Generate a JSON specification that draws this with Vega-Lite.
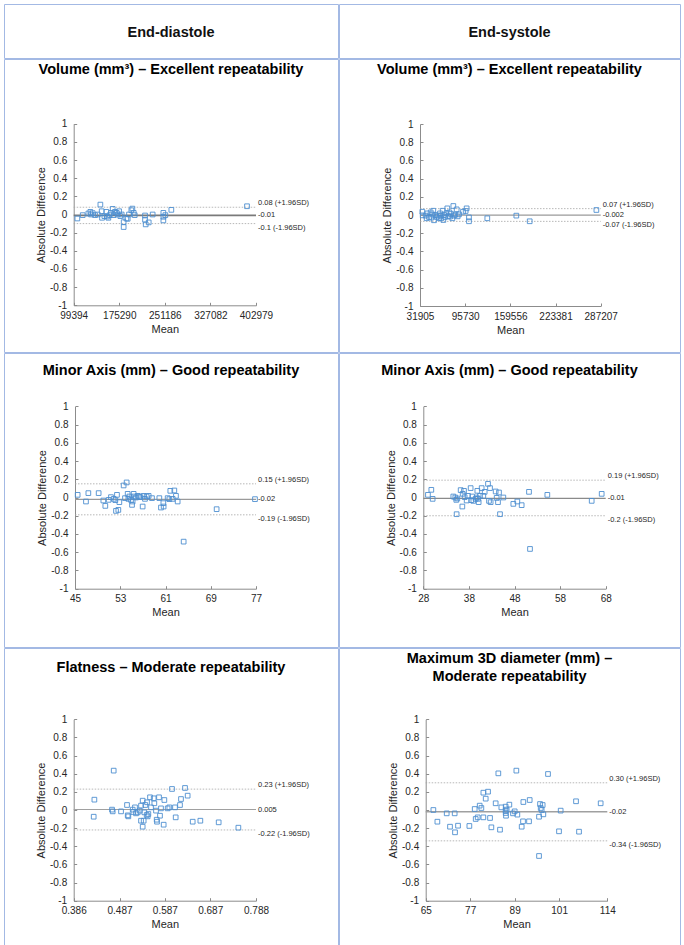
{
"$schema": "https://vega.github.io/schema/vega-lite/v6.json",
"padding": {"left": 3, "top": 3, "right": 0, "bottom": 0},
"background": "white",
"datasets": {
"p1": [{"x":105500,"y":-0.044},{"x":114400,"y":-0.007},{"x":123800,"y":0.011},{"x":127100,"y":0.029},{"x":128300,"y":0},{"x":131000,"y":0.015},{"x":134900,"y":-0.007},{"x":139400,"y":0},{"x":143800,"y":0.109},{"x":146000,"y":0.036},{"x":146600,"y":-0.036},{"x":150500,"y":-0.018},{"x":153800,"y":0.029},{"x":154900,"y":-0.022},{"x":157100,"y":-0.036},{"x":159300,"y":-0.007},{"x":161600,"y":0.018},{"x":164300,"y":0.062},{"x":166000,"y":-0.007},{"x":168200,"y":0.029},{"x":171000,"y":0.018},{"x":172700,"y":0},{"x":175000,"y":0.036},{"x":177100,"y":-0.018},{"x":179300,"y":0},{"x":182600,"y":-0.084},{"x":182600,"y":-0.138},{"x":187100,"y":-0.044},{"x":189300,"y":-0.047},{"x":191500,"y":0},{"x":195400,"y":0.047},{"x":197100,"y":0.065},{"x":199300,"y":0.018},{"x":201000,"y":-0.007},{"x":218200,"y":-0.011},{"x":218200,"y":-0.058},{"x":219300,"y":-0.109},{"x":224300,"y":-0.087},{"x":230900,"y":0},{"x":248700,"y":0.018},{"x":248700,"y":-0.025},{"x":248700,"y":-0.065},{"x":252000,"y":-0.007},{"x":262000,"y":0.051},{"x":388000,"y":0.091}],
"p2": [{"x":35200,"y":0.036},{"x":35700,"y":-0.004},{"x":39900,"y":-0.007},{"x":41300,"y":-0.036},{"x":42300,"y":0.018},{"x":44600,"y":-0.022},{"x":47000,"y":0.029},{"x":47900,"y":-0.029},{"x":49300,"y":0.007},{"x":50700,"y":0.047},{"x":51700,"y":-0.058},{"x":53600,"y":0},{"x":55500,"y":-0.022},{"x":57300,"y":-0.007},{"x":58800,"y":-0.036},{"x":60200,"y":0.018},{"x":61100,"y":-0.007},{"x":62000,"y":-0.036},{"x":63900,"y":0.047},{"x":64900,"y":-0.055},{"x":65800,"y":0},{"x":67200,"y":-0.022},{"x":69100,"y":0.018},{"x":70500,"y":0.073},{"x":71900,"y":-0.011},{"x":73400,"y":0.029},{"x":74300,"y":-0.018},{"x":75700,"y":0.011},{"x":77600,"y":-0.036},{"x":79000,"y":0.099},{"x":79900,"y":-0.007},{"x":81800,"y":0.004},{"x":83700,"y":0.062},{"x":85100,"y":-0.015},{"x":87000,"y":0.007},{"x":92700,"y":0.036},{"x":96400,"y":0.044},{"x":97800,"y":0.073},{"x":101100,"y":-0.026},{"x":101100,"y":-0.069},{"x":127000,"y":-0.036},{"x":168000,"y":-0.007},{"x":186900,"y":-0.069},{"x":281100,"y":0.055}],
"p3": [{"x":45.47,"y":0.029},{"x":46.94,"y":-0.044},{"x":47.36,"y":0.048},{"x":49.18,"y":0.048},{"x":50.01,"y":-0.033},{"x":50.36,"y":-0.092},{"x":50.95,"y":-0.026},{"x":51.36,"y":0.004},{"x":51.84,"y":-0.015},{"x":52.13,"y":-0.029},{"x":52.25,"y":-0.147},{"x":52.42,"y":0.029},{"x":52.66,"y":-0.136},{"x":52.84,"y":-0.051},{"x":53.6,"y":0.132},{"x":53.84,"y":-0.007},{"x":54.13,"y":0.165},{"x":54.31,"y":0.04},{"x":54.43,"y":-0.015},{"x":54.61,"y":0.011},{"x":54.9,"y":-0.026},{"x":55.08,"y":-0.081},{"x":55.19,"y":-0.044},{"x":55.37,"y":0.04},{"x":55.49,"y":0.011},{"x":55.78,"y":0},{"x":56.08,"y":0.018},{"x":56.37,"y":0.011},{"x":56.55,"y":0.004},{"x":56.96,"y":-0.099},{"x":57.14,"y":0.018},{"x":57.37,"y":-0.015},{"x":57.67,"y":0.011},{"x":58.02,"y":0.018},{"x":58.61,"y":-0.007},{"x":59.91,"y":-0.007},{"x":60.2,"y":-0.11},{"x":60.62,"y":-0.062},{"x":60.67,"y":-0.099},{"x":61.38,"y":-0.007},{"x":61.68,"y":-0.018},{"x":61.85,"y":0.073},{"x":62.27,"y":-0.015},{"x":62.56,"y":0.077},{"x":62.85,"y":0.018},{"x":63.15,"y":-0.044},{"x":64.21,"y":-0.484},{"x":70.04,"y":-0.128},{"x":76.82,"y":-0.018}],
"p4": [{"x":29.02,"y":0.029},{"x":29.76,"y":0.084},{"x":30.05,"y":-0.015},{"x":34.58,"y":0.011},{"x":35.02,"y":0},{"x":35.24,"y":-0.026},{"x":35.31,"y":-0.183},{"x":35.46,"y":-0.011},{"x":36.19,"y":0.081},{"x":36.56,"y":-0.099},{"x":36.63,"y":0.04},{"x":36.92,"y":0.073},{"x":37.07,"y":0.004},{"x":37.51,"y":-0.033},{"x":37.8,"y":0.018},{"x":38.38,"y":0.103},{"x":38.53,"y":-0.029},{"x":38.75,"y":0.011},{"x":38.97,"y":-0.037},{"x":39.48,"y":-0.015},{"x":39.7,"y":0},{"x":39.85,"y":0.073},{"x":39.99,"y":-0.015},{"x":40.14,"y":-0.051},{"x":40.43,"y":0.018},{"x":40.8,"y":0.103},{"x":41.16,"y":0.018},{"x":41.46,"y":0.062},{"x":42.19,"y":0.15},{"x":42.41,"y":-0.037},{"x":42.63,"y":0.103},{"x":42.77,"y":-0.051},{"x":43.87,"y":0.066},{"x":44.09,"y":-0.004},{"x":44.38,"y":-0.051},{"x":44.6,"y":0.055},{"x":44.82,"y":-0.183},{"x":45.55,"y":0},{"x":47.74,"y":-0.07},{"x":48.62,"y":-0.044},{"x":49.57,"y":-0.084},{"x":51.18,"y":0.062},{"x":51.4,"y":-0.564},{"x":55.2,"y":0.029},{"x":64.93,"y":-0.037},{"x":67.12,"y":0.04}],
"p5": [{"x":0.4316,"y":0.114},{"x":0.4301,"y":-0.074},{"x":0.4705,"y":0.004},{"x":0.472,"y":-0.015},{"x":0.4742,"y":0.434},{"x":0.4904,"y":-0.015},{"x":0.5036,"y":0.055},{"x":0.5051,"y":-0.059},{"x":0.5065,"y":-0.07},{"x":0.5161,"y":0.004},{"x":0.5175,"y":-0.022},{"x":0.5212,"y":0.029},{"x":0.5234,"y":-0.037},{"x":0.5271,"y":-0.026},{"x":0.5315,"y":-0.007},{"x":0.5345,"y":0.048},{"x":0.5345,"y":-0.118},{"x":0.5381,"y":0.103},{"x":0.5381,"y":-0.184},{"x":0.5403,"y":-0.118},{"x":0.5418,"y":-0.026},{"x":0.544,"y":0.055},{"x":0.5469,"y":-0.055},{"x":0.5477,"y":0.085},{"x":0.5491,"y":-0.07},{"x":0.5506,"y":-0.044},{"x":0.5543,"y":0.14},{"x":0.5565,"y":0.029},{"x":0.5624,"y":0.129},{"x":0.5638,"y":0.074},{"x":0.5675,"y":-0.007},{"x":0.569,"y":-0.107},{"x":0.5697,"y":-0.129},{"x":0.5741,"y":0.14},{"x":0.5763,"y":-0.063},{"x":0.5785,"y":0.018},{"x":0.5844,"y":-0.162},{"x":0.5859,"y":0.11},{"x":0.5932,"y":0.018},{"x":0.5969,"y":0.029},{"x":0.6028,"y":0.232},{"x":0.6094,"y":0.029},{"x":0.6109,"y":-0.081},{"x":0.6204,"y":0.055},{"x":0.6226,"y":0.121},{"x":0.6315,"y":0.243},{"x":0.6373,"y":0.158},{"x":0.6484,"y":-0.129},{"x":0.6653,"y":-0.118},{"x":0.7057,"y":-0.136},{"x":0.7491,"y":-0.195}],
"p6": [{"x":67.07,"y":0},{"x":68.15,"y":-0.129},{"x":70.67,"y":-0.037},{"x":71.56,"y":-0.184},{"x":72.82,"y":-0.037},{"x":72.91,"y":-0.246},{"x":73.72,"y":-0.173},{"x":76.78,"y":-0.176},{"x":78.22,"y":0.011},{"x":78.49,"y":-0.099},{"x":79.03,"y":-0.081},{"x":79.57,"y":0.048},{"x":80.02,"y":0.022},{"x":80.56,"y":0.191},{"x":80.56,"y":-0.081},{"x":81.19,"y":0.125},{"x":81.82,"y":0.202},{"x":82.36,"y":-0.088},{"x":82.72,"y":-0.191},{"x":83.88,"y":0.074},{"x":84.6,"y":0.404},{"x":85.05,"y":-0.217},{"x":85.41,"y":0.029},{"x":86.58,"y":0.037},{"x":86.58,"y":-0.007},{"x":86.58,"y":-0.033},{"x":86.67,"y":-0.063},{"x":86.85,"y":0.004},{"x":87.57,"y":0.059},{"x":88.56,"y":-0.037},{"x":89.01,"y":-0.015},{"x":89.46,"y":0.434},{"x":89.73,"y":-0.051},{"x":90.9,"y":-0.184},{"x":91.26,"y":-0.125},{"x":91.35,"y":0.088},{"x":92.88,"y":-0.125},{"x":93.06,"y":0.11},{"x":95.58,"y":-0.074},{"x":95.58,"y":-0.507},{"x":95.85,"y":0.066},{"x":96.03,"y":0.022},{"x":96.29,"y":0},{"x":96.56,"y":0.055},{"x":96.74,"y":-0.048},{"x":98.0,"y":0.397},{"x":100.97,"y":-0.235},{"x":101.42,"y":-0.007},{"x":105.56,"y":0.096},{"x":106.37,"y":-0.239},{"x":112.21,"y":0.074}],
"r1": [{"y":0.08,"k":"u","label":"0.08 (+1.96SD)"},{"y":-0.01,"k":"m","label":"-0.01"},{"y":-0.1,"k":"l","label":"-0.1 (-1.96SD)"}],
"r2": [{"y":0.07,"k":"u","label":"0.07 (+1.96SD)"},{"y":-0.002,"k":"m","label":"-0.002"},{"y":-0.07,"k":"l","label":"-0.07 (-1.96SD)"}],
"r3": [{"y":0.15,"k":"u","label":"0.15 (+1.96SD)"},{"y":-0.02,"k":"m","label":"-0.02"},{"y":-0.19,"k":"l","label":"-0.19 (-1.96SD)"}],
"r4": [{"y":0.19,"k":"u","label":"0.19 (+1.96SD)"},{"y":-0.01,"k":"m","label":"-0.01"},{"y":-0.2,"k":"l","label":"-0.2 (-1.96SD)"}],
"r5": [{"y":0.23,"k":"u","label":"0.23 (+1.96SD)"},{"y":0.005,"k":"m","label":"0.005"},{"y":-0.22,"k":"l","label":"-0.22 (-1.96SD)"}],
"r6": [{"y":0.30,"k":"u","label":"0.30 (+1.96SD)"},{"y":-0.02,"k":"m","label":"-0.02"},{"y":-0.34,"k":"l","label":"-0.34 (-1.96SD)"}]
},
"vconcat": [
{"hconcat": [
{"width": 334, "height": 54, "data": {"values": [{"t": "End-diastole", "c": 0}]}, "mark": {"type": "text", "fontSize": 14.5, "fontWeight": "bold", "dy": 2, "color": "#111111", "font": "Liberation Sans"},
 "encoding": {"text": {"field": "t"}, "x": {"field": "c", "type": "quantitative", "scale": {"domain": [-1, 1]}, "axis": null}, "y": {"field": "c", "type": "quantitative", "scale": {"domain": [-1, 1]}, "axis": null}}},
{"width": 341, "height": 54, "data": {"values": [{"t": "End-systole", "c": 0}]}, "mark": {"type": "text", "fontSize": 14.5, "fontWeight": "bold", "dy": 2, "color": "#111111", "font": "Liberation Sans"},
 "encoding": {"text": {"field": "t"}, "x": {"field": "c", "type": "quantitative", "scale": {"domain": [-1, 1]}, "axis": null}, "y": {"field": "c", "type": "quantitative", "scale": {"domain": [-1, 1]}, "axis": null}}}
], "spacing": -1},
{"hconcat": [
{"width": 334, "height": 293,
 "title": {"text": "Volume (mm³) – Excellent repeatability", "offset": -18},
 "encoding": {"y": {"field": "y", "type": "quantitative", "scale": {"domain": [-1, 1], "range": [246.3, 64.7], "nice": false, "zero": false}, "axis": {"title": "Absolute Difference", "values": [-1,-0.8,-0.6,-0.4,-0.2,0,0.2,0.4,0.6,0.8,1], "offset": -69.7, "labelExpr": "toString(datum.value)"}}},
 "layer": [
  {"data": {"name": "r1"}, "transform": [{"filter": "datum.k != 'm'"}], "mark": {"type": "rule", "color": "#a6a6a6", "strokeDash": [1.5, 1.5], "strokeWidth": 0.8},
   "encoding": {"x": {"datum": 99394, "type": "quantitative", "scale": {"domain": [99394, 402979], "range": [69.7, 252], "nice": false, "zero": false}, "axis": {"title": "Mean", "values": [99394, 175290, 251186, 327082, 402979], "format": "d", "offset": -46.7}}, "x2": {"datum": 402979}}},
  {"data": {"name": "r1"}, "transform": [{"filter": "datum.k == 'm'"}], "mark": {"type": "rule", "color": "#7a7a7a", "strokeWidth": 1.6},
   "encoding": {"x": {"datum": 99394, "type": "quantitative", "scale": {"domain": [99394, 402979], "range": [69.7, 252], "nice": false, "zero": false}, "axis": {"title": "Mean", "values": [99394, 175290, 251186, 327082, 402979], "format": "d", "offset": -46.7}}, "x2": {"datum": 402979}}},
  {"data": {"name": "p1"}, "mark": {"type": "point", "shape": "square", "filled": false, "size": 22, "color": "#4e8fd0", "strokeWidth": 0.9, "opacity": 1},
   "encoding": {"x": {"field": "x", "type": "quantitative", "scale": {"domain": [99394, 402979], "range": [69.7, 252], "nice": false, "zero": false}, "axis": {"title": "Mean", "values": [99394, 175290, 251186, 327082, 402979], "format": "d", "offset": -46.7}}}},
  {"data": {"name": "r1"}, "transform": [{"filter": "datum.k == 'u'"}], "mark": {"type": "text", "align": "left", "baseline": "bottom", "dx": 2, "fontSize": 7.5, "color": "#262626"},
   "encoding": {"x": {"datum": 402979, "type": "quantitative"}, "text": {"field": "label"}}},
  {"data": {"name": "r1"}, "transform": [{"filter": "datum.k == 'm'"}], "mark": {"type": "text", "align": "left", "baseline": "middle", "dx": 2, "fontSize": 7.5, "color": "#262626"},
   "encoding": {"x": {"datum": 402979, "type": "quantitative"}, "text": {"field": "label"}}},
  {"data": {"name": "r1"}, "transform": [{"filter": "datum.k == 'l'"}], "mark": {"type": "text", "align": "left", "baseline": "top", "dx": 2, "fontSize": 7.5, "color": "#262626"},
   "encoding": {"x": {"datum": 402979, "type": "quantitative"}, "text": {"field": "label"}}}
 ]},
{"width": 341, "height": 293,
 "title": {"text": "Volume (mm³) – Excellent repeatability", "offset": -18},
 "encoding": {"y": {"field": "y", "type": "quantitative", "scale": {"domain": [-1, 1], "range": [247, 65], "nice": false, "zero": false}, "axis": {"title": "Absolute Difference", "values": [-1,-0.8,-0.6,-0.4,-0.2,0,0.2,0.4,0.6,0.8,1], "offset": -81, "labelExpr": "toString(datum.value)"}}},
 "layer": [
  {"data": {"name": "r2"}, "transform": [{"filter": "datum.k != 'm'"}], "mark": {"type": "rule", "color": "#a6a6a6", "strokeDash": [1.5, 1.5], "strokeWidth": 0.8},
   "encoding": {"x": {"datum": 31905, "type": "quantitative", "scale": {"domain": [31905, 287207], "range": [81, 261.7], "nice": false, "zero": false}, "axis": {"title": "Mean", "values": [31905, 95730, 159556, 223381, 287207], "format": "d", "offset": -46}}, "x2": {"datum": 287207}}},
  {"data": {"name": "r2"}, "transform": [{"filter": "datum.k == 'm'"}], "mark": {"type": "rule", "color": "#9a9a9a", "strokeWidth": 1.2},
   "encoding": {"x": {"datum": 31905, "type": "quantitative", "scale": {"domain": [31905, 287207], "range": [81, 261.7], "nice": false, "zero": false}, "axis": {"title": "Mean", "values": [31905, 95730, 159556, 223381, 287207], "format": "d", "offset": -46}}, "x2": {"datum": 287207}}},
  {"data": {"name": "p2"}, "mark": {"type": "point", "shape": "square", "filled": false, "size": 22, "color": "#4e8fd0", "strokeWidth": 0.9, "opacity": 1},
   "encoding": {"x": {"field": "x", "type": "quantitative", "scale": {"domain": [31905, 287207], "range": [81, 261.7], "nice": false, "zero": false}, "axis": {"title": "Mean", "values": [31905, 95730, 159556, 223381, 287207], "format": "d", "offset": -46}}}},
  {"data": {"name": "r2"}, "transform": [{"filter": "datum.k == 'u'"}], "mark": {"type": "text", "align": "left", "baseline": "bottom", "dx": 2, "fontSize": 7.5, "color": "#262626"},
   "encoding": {"x": {"datum": 287207, "type": "quantitative"}, "text": {"field": "label"}}},
  {"data": {"name": "r2"}, "transform": [{"filter": "datum.k == 'm'"}], "mark": {"type": "text", "align": "left", "baseline": "middle", "dx": 2, "fontSize": 7.5, "color": "#262626"},
   "encoding": {"x": {"datum": 287207, "type": "quantitative"}, "text": {"field": "label"}}},
  {"data": {"name": "r2"}, "transform": [{"filter": "datum.k == 'l'"}], "mark": {"type": "text", "align": "left", "baseline": "top", "dx": 2, "fontSize": 7.5, "color": "#262626"},
   "encoding": {"x": {"datum": 287207, "type": "quantitative"}, "text": {"field": "label"}}}
 ]}
], "spacing": -1},
{"hconcat": [
{"width": 334, "height": 294,
 "title": {"text": "Minor Axis (mm) – Good repeatability", "offset": -25},
 "encoding": {"y": {"field": "y", "type": "quantitative", "scale": {"domain": [-1, 1], "range": [235.7, 53.3], "nice": false, "zero": false}, "axis": {"title": "Absolute Difference", "values": [-1,-0.8,-0.6,-0.4,-0.2,0,0.2,0.4,0.6,0.8,1], "offset": -71, "labelExpr": "toString(datum.value)"}}},
 "layer": [
  {"data": {"name": "r3"}, "transform": [{"filter": "datum.k != 'm'"}], "mark": {"type": "rule", "color": "#a6a6a6", "strokeDash": [1.5, 1.5], "strokeWidth": 0.8},
   "encoding": {"x": {"datum": 45, "type": "quantitative", "scale": {"domain": [45, 77], "range": [71, 252], "nice": false, "zero": false}, "axis": {"title": "Mean", "values": [45, 53, 61, 69, 77], "format": "d", "offset": -58.3}}, "x2": {"datum": 77}}},
  {"data": {"name": "r3"}, "transform": [{"filter": "datum.k == 'm'"}], "mark": {"type": "rule", "color": "#9a9a9a", "strokeWidth": 1.2},
   "encoding": {"x": {"datum": 45, "type": "quantitative", "scale": {"domain": [45, 77], "range": [71, 252], "nice": false, "zero": false}, "axis": {"title": "Mean", "values": [45, 53, 61, 69, 77], "format": "d", "offset": -58.3}}, "x2": {"datum": 77}}},
  {"data": {"name": "p3"}, "mark": {"type": "point", "shape": "square", "filled": false, "size": 22, "color": "#4e8fd0", "strokeWidth": 0.9, "opacity": 1},
   "encoding": {"x": {"field": "x", "type": "quantitative", "scale": {"domain": [45, 77], "range": [71, 252], "nice": false, "zero": false}, "axis": {"title": "Mean", "values": [45, 53, 61, 69, 77], "format": "d", "offset": -58.3}}}},
  {"data": {"name": "r3"}, "transform": [{"filter": "datum.k == 'u'"}], "mark": {"type": "text", "align": "left", "baseline": "bottom", "dx": 2, "fontSize": 7.5, "color": "#262626"},
   "encoding": {"x": {"datum": 77, "type": "quantitative"}, "text": {"field": "label"}}},
  {"data": {"name": "r3"}, "transform": [{"filter": "datum.k == 'm'"}], "mark": {"type": "text", "align": "left", "baseline": "middle", "dx": 2, "fontSize": 7.5, "color": "#262626"},
   "encoding": {"x": {"datum": 77, "type": "quantitative"}, "text": {"field": "label"}}},
  {"data": {"name": "r3"}, "transform": [{"filter": "datum.k == 'l'"}], "mark": {"type": "text", "align": "left", "baseline": "top", "dx": 2, "fontSize": 7.5, "color": "#262626"},
   "encoding": {"x": {"datum": 77, "type": "quantitative"}, "text": {"field": "label"}}}
 ]},
{"width": 341, "height": 294,
 "title": {"text": "Minor Axis (mm) – Good repeatability", "offset": -25},
 "encoding": {"y": {"field": "y", "type": "quantitative", "scale": {"domain": [-1, 1], "range": [235.7, 53.3], "nice": false, "zero": false}, "axis": {"title": "Absolute Difference", "values": [-1,-0.8,-0.6,-0.4,-0.2,0,0.2,0.4,0.6,0.8,1], "offset": -84.3, "labelExpr": "toString(datum.value)"}}},
 "layer": [
  {"data": {"name": "r4"}, "transform": [{"filter": "datum.k != 'm'"}], "mark": {"type": "rule", "color": "#a6a6a6", "strokeDash": [1.5, 1.5], "strokeWidth": 0.8},
   "encoding": {"x": {"datum": 28, "type": "quantitative", "scale": {"domain": [28, 68], "range": [84.3, 266.7], "nice": false, "zero": false}, "axis": {"title": "Mean", "values": [28, 38, 48, 58, 68], "format": "d", "offset": -58.3}}, "x2": {"datum": 68}}},
  {"data": {"name": "r4"}, "transform": [{"filter": "datum.k == 'm'"}], "mark": {"type": "rule", "color": "#8a8a8a", "strokeWidth": 1.4},
   "encoding": {"x": {"datum": 28, "type": "quantitative", "scale": {"domain": [28, 68], "range": [84.3, 266.7], "nice": false, "zero": false}, "axis": {"title": "Mean", "values": [28, 38, 48, 58, 68], "format": "d", "offset": -58.3}}, "x2": {"datum": 68}}},
  {"data": {"name": "p4"}, "mark": {"type": "point", "shape": "square", "filled": false, "size": 22, "color": "#4e8fd0", "strokeWidth": 0.9, "opacity": 1},
   "encoding": {"x": {"field": "x", "type": "quantitative", "scale": {"domain": [28, 68], "range": [84.3, 266.7], "nice": false, "zero": false}, "axis": {"title": "Mean", "values": [28, 38, 48, 58, 68], "format": "d", "offset": -58.3}}}},
  {"data": {"name": "r4"}, "transform": [{"filter": "datum.k == 'u'"}], "mark": {"type": "text", "align": "left", "baseline": "bottom", "dx": 2, "fontSize": 7.5, "color": "#262626"},
   "encoding": {"x": {"datum": 68, "type": "quantitative"}, "text": {"field": "label"}}},
  {"data": {"name": "r4"}, "transform": [{"filter": "datum.k == 'm'"}], "mark": {"type": "text", "align": "left", "baseline": "middle", "dx": 2, "fontSize": 7.5, "color": "#262626"},
   "encoding": {"x": {"datum": 68, "type": "quantitative"}, "text": {"field": "label"}}},
  {"data": {"name": "r4"}, "transform": [{"filter": "datum.k == 'l'"}], "mark": {"type": "text", "align": "left", "baseline": "top", "dx": 2, "fontSize": 7.5, "color": "#262626"},
   "encoding": {"x": {"datum": 68, "type": "quantitative"}, "text": {"field": "label"}}}
 ]}
], "spacing": -1},
{"hconcat": [
{"width": 334, "height": 298,
 "title": {"text": "Flatness – Moderate repeatability", "offset": -27},
 "encoding": {"y": {"field": "y", "type": "quantitative", "scale": {"domain": [-1, 1], "range": [252.7, 71.3], "nice": false, "zero": false}, "axis": {"title": "Absolute Difference", "values": [-1,-0.8,-0.6,-0.4,-0.2,0,0.2,0.4,0.6,0.8,1], "offset": -69.7, "labelExpr": "toString(datum.value)"}}},
 "layer": [
  {"data": {"name": "r5"}, "transform": [{"filter": "datum.k != 'm'"}], "mark": {"type": "rule", "color": "#a6a6a6", "strokeDash": [1.5, 1.5], "strokeWidth": 0.8},
   "encoding": {"x": {"datum": 0.386, "type": "quantitative", "scale": {"domain": [0.386, 0.788], "range": [69.7, 252], "nice": false, "zero": false}, "axis": {"title": "Mean", "values": [0.386, 0.487, 0.587, 0.687, 0.788], "format": ".3f", "offset": -45.3}}, "x2": {"datum": 0.788}}},
  {"data": {"name": "r5"}, "transform": [{"filter": "datum.k == 'm'"}], "mark": {"type": "rule", "color": "#a0a0a0", "strokeWidth": 1.1},
   "encoding": {"x": {"datum": 0.386, "type": "quantitative", "scale": {"domain": [0.386, 0.788], "range": [69.7, 252], "nice": false, "zero": false}, "axis": {"title": "Mean", "values": [0.386, 0.487, 0.587, 0.687, 0.788], "format": ".3f", "offset": -45.3}}, "x2": {"datum": 0.788}}},
  {"data": {"name": "p5"}, "mark": {"type": "point", "shape": "square", "filled": false, "size": 22, "color": "#4e8fd0", "strokeWidth": 0.9, "opacity": 1},
   "encoding": {"x": {"field": "x", "type": "quantitative", "scale": {"domain": [0.386, 0.788], "range": [69.7, 252], "nice": false, "zero": false}, "axis": {"title": "Mean", "values": [0.386, 0.487, 0.587, 0.687, 0.788], "format": ".3f", "offset": -45.3}}}},
  {"data": {"name": "r5"}, "transform": [{"filter": "datum.k == 'u'"}], "mark": {"type": "text", "align": "left", "baseline": "bottom", "dx": 2, "fontSize": 7.5, "color": "#262626"},
   "encoding": {"x": {"datum": 0.788, "type": "quantitative"}, "text": {"field": "label"}}},
  {"data": {"name": "r5"}, "transform": [{"filter": "datum.k == 'm'"}], "mark": {"type": "text", "align": "left", "baseline": "middle", "dx": 2, "fontSize": 7.5, "color": "#262626"},
   "encoding": {"x": {"datum": 0.788, "type": "quantitative"}, "text": {"field": "label"}}},
  {"data": {"name": "r5"}, "transform": [{"filter": "datum.k == 'l'"}], "mark": {"type": "text", "align": "left", "baseline": "top", "dx": 2, "fontSize": 7.5, "color": "#262626"},
   "encoding": {"x": {"datum": 0.788, "type": "quantitative"}, "text": {"field": "label"}}}
 ]},
{"width": 341, "height": 298,
 "title": {"text": ["Maximum 3D diameter (mm) –", "Moderate repeatability"], "offset": -36, "lineHeight": 17.5},
 "encoding": {"y": {"field": "y", "type": "quantitative", "scale": {"domain": [-1, 1], "range": [252.7, 71.3], "nice": false, "zero": false}, "axis": {"title": "Absolute Difference", "values": [-1,-0.8,-0.6,-0.4,-0.2,0,0.2,0.4,0.6,0.8,1], "offset": -86.7, "labelExpr": "toString(datum.value)"}}},
 "layer": [
  {"data": {"name": "r6"}, "transform": [{"filter": "datum.k != 'm'"}], "mark": {"type": "rule", "color": "#a6a6a6", "strokeDash": [1.5, 1.5], "strokeWidth": 0.8},
   "encoding": {"x": {"datum": 65, "type": "quantitative", "scale": {"domain": [65, 114], "range": [86.7, 268.3], "nice": false, "zero": false}, "axis": {"title": "Mean", "values": [65, 77, 89, 101, 114], "format": "d", "offset": -45.3}}, "x2": {"datum": 114}}},
  {"data": {"name": "r6"}, "transform": [{"filter": "datum.k == 'm'"}], "mark": {"type": "rule", "color": "#a0a0a0", "strokeWidth": 1.6},
   "encoding": {"x": {"datum": 65, "type": "quantitative", "scale": {"domain": [65, 114], "range": [86.7, 268.3], "nice": false, "zero": false}, "axis": {"title": "Mean", "values": [65, 77, 89, 101, 114], "format": "d", "offset": -45.3}}, "x2": {"datum": 114}}},
  {"data": {"name": "p6"}, "mark": {"type": "point", "shape": "square", "filled": false, "size": 22, "color": "#4e8fd0", "strokeWidth": 0.9, "opacity": 1},
   "encoding": {"x": {"field": "x", "type": "quantitative", "scale": {"domain": [65, 114], "range": [86.7, 268.3], "nice": false, "zero": false}, "axis": {"title": "Mean", "values": [65, 77, 89, 101, 114], "format": "d", "offset": -45.3}}}},
  {"data": {"name": "r6"}, "transform": [{"filter": "datum.k == 'u'"}], "mark": {"type": "text", "align": "left", "baseline": "bottom", "dx": 2, "fontSize": 7.5, "color": "#262626"},
   "encoding": {"x": {"datum": 114, "type": "quantitative"}, "text": {"field": "label"}}},
  {"data": {"name": "r6"}, "transform": [{"filter": "datum.k == 'm'"}], "mark": {"type": "text", "align": "left", "baseline": "middle", "dx": 2, "fontSize": 7.5, "color": "#262626"},
   "encoding": {"x": {"datum": 114, "type": "quantitative"}, "text": {"field": "label"}}},
  {"data": {"name": "r6"}, "transform": [{"filter": "datum.k == 'l'"}], "mark": {"type": "text", "align": "left", "baseline": "top", "dx": 2, "fontSize": 7.5, "color": "#262626"},
   "encoding": {"x": {"datum": 114, "type": "quantitative"}, "text": {"field": "label"}}}
 ]}
], "spacing": -1}
],
"spacing": -1,
"config": {
 "font": "Liberation Sans",
 "view": {"stroke": "#a3b9e4", "strokeWidth": 1},
 "axis": {"grid": false, "domainColor": "#8c8c8c", "tickColor": "#8c8c8c", "tickSize": -3, "labelFontSize": 10, "labelColor": "#262626", "titleFontSize": 11, "titleFontWeight": "normal", "titleColor": "#262626", "labelFlush": false, "labelOverlap": false, "minExtent": 0, "labelFont": "Liberation Sans", "titleFont": "Liberation Sans"},
 "axisX": {"labelPadding": 8, "titlePadding": 3},
 "axisY": {"labelPadding": 10, "titlePadding": 3},
 "title": {"fontSize": 14.5, "font": "Liberation Sans", "fontWeight": "bold", "color": "#000000", "anchor": "middle", "frame": "group", "baseline": "middle"}
}
}
